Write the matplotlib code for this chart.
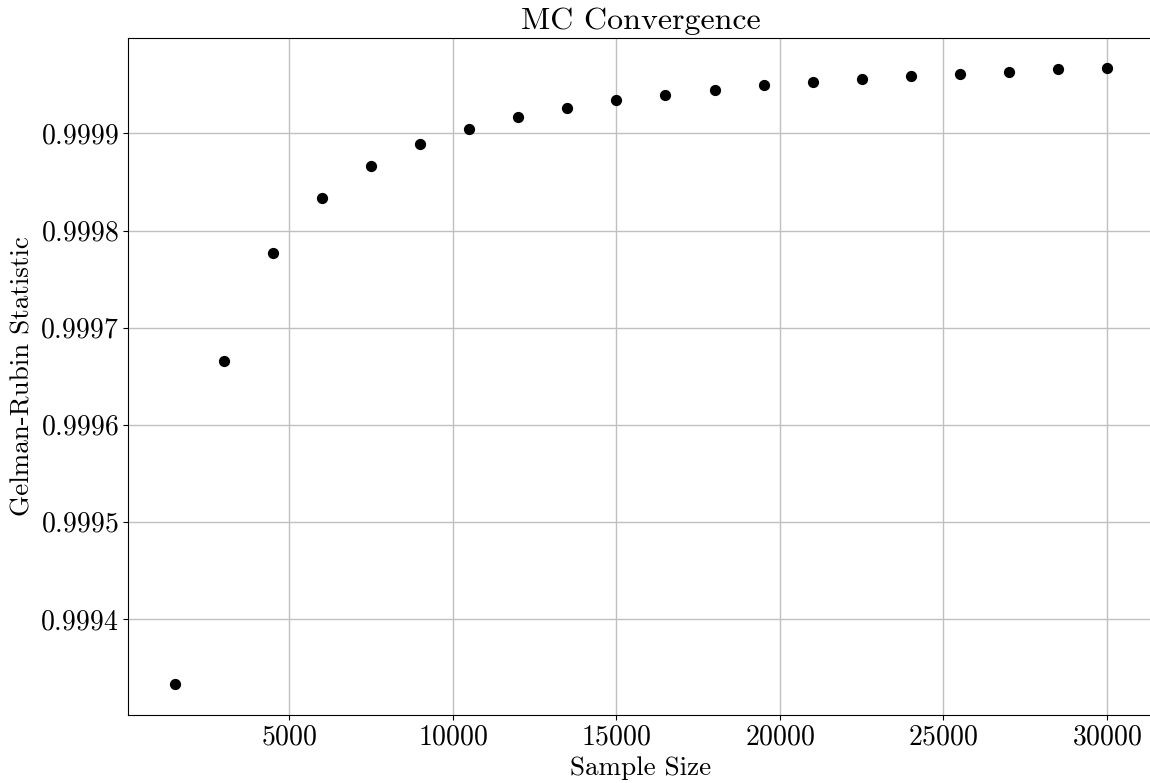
import numpy as np
import matplotlib
matplotlib.use('Agg')
import matplotlib.pyplot as plt

# LaTeX 비슷한 Computer Modern 글꼴
plt.rcParams['font.family'] = ['cmr10', 'DejaVu Serif']
plt.rcParams['mathtext.fontset'] = 'cm'
plt.rcParams['axes.formatter.use_mathtext'] = True
plt.rcParams['axes.unicode_minus'] = False

sample_size = [1500, 3000, 4500, 6000, 7500, 9000, 10500, 12000, 13500, 15000,
               16500, 18000, 19500, 21000, 22500, 24000, 25500, 27000, 28500, 30000]
gelman_rubin = [0.999333, 0.999666, 0.999777, 0.999834, 0.999866, 0.999889,
                0.999905, 0.999917, 0.999926, 0.999934, 0.999940, 0.999945,
                0.999950, 0.999953, 0.999956, 0.999959, 0.999961, 0.999963,
                0.999966, 0.999967]

fig = plt.figure(figsize=(11.5, 7.83), dpi=100)
# 오른쪽 테두리는 그림 밖으로 살짝 나감 (원본처럼)
ax = fig.add_axes([0.1116, 0.0872, 0.8915, 0.8647])

ax.scatter(sample_size, gelman_rubin, s=50, c='black', zorder=3)

ax.set_title('MC Convergence', fontsize=23)
ax.set_xlabel('Sample Size', fontsize=19.5)
ax.set_ylabel('Gelman-Rubin Statistic', fontsize=19.5)
ax.tick_params(labelsize=20)
ax.ticklabel_format(axis='y', useOffset=False)
ax.set_xticks([5000, 10000, 15000, 20000, 25000, 30000])
ax.grid(True, color='#c0c0c0', linewidth=1)
ax.set_axisbelow(True)

fig.savefig('out.png', dpi=100)
